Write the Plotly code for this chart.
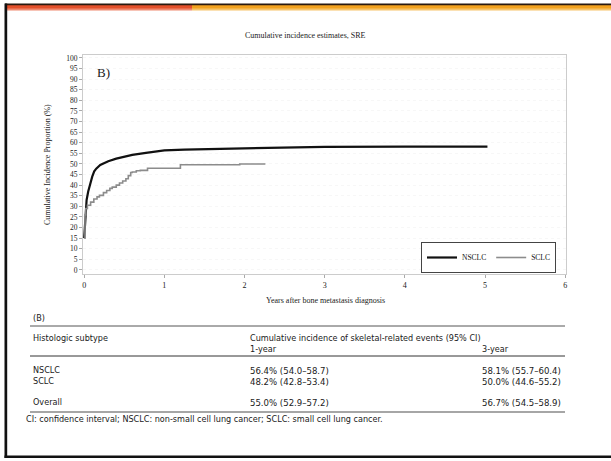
import plotly.graph_objects as go

# ---------------- data ----------------
chart_title = "Cumulative incidence estimates, SRE"
x_title = "Years after bone metastasis diagnosis"
y_title = "Cumulative Incidence Proportion (%)"
panel_label = "B)"

nsclc_t = [0, 0.005, 0.01, 0.02, 0.03, 0.05, 0.07, 0.1, 0.125, 0.15, 0.2, 0.3,
           0.4, 0.5, 0.6, 0.77, 1.0, 1.25, 1.5, 2.0, 2.5, 3.0, 4.0, 5.03]
nsclc_v = [15, 18, 22, 28, 33, 37, 40, 44, 46.5, 47.8, 49.5, 51.3,
           52.5, 53.5, 54.3, 55.2, 56.4, 56.8, 57.0, 57.4, 57.8, 58.1, 58.2, 58.2]

sclc_t = [0, 0.01, 0.02, 0.04, 0.08, 0.12, 0.16, 0.19, 0.24, 0.28, 0.32, 0.35,
          0.4, 0.44, 0.48, 0.52, 0.55, 0.58, 0.6, 0.65, 0.7, 0.79, 1.2, 1.94, 2.26]
sclc_v = [15, 26, 29, 30.5, 32, 33.5, 34.5, 35.2, 36.5, 37.5, 38.5, 39.1,
          40, 41, 42, 43, 44.5, 46, 46.2, 46.8, 47, 48, 49.6, 50.0, 50.0]

x_ticks = [0, 1, 2, 3, 4, 5, 6]
y_ticks = list(range(0, 101, 5))

table_label = "(B)"
table_col0 = "Histologic subtype"
table_group = "Cumulative incidence of skeletal-related events (95% CI)"
table_subcols = ["1-year", "3-year"]
row_names = ["NSCLC", "SCLC", "Overall"]
row_1yr = ["56.4% (54.0–58.7)", "48.2% (42.8–53.4)", "55.0% (52.9–57.2)"]
row_3yr = ["58.1% (55.7–60.4)", "50.0% (44.6–55.2)", "56.7% (54.5–58.9)"]
footnote = "CI: confidence interval; NSCLC: non-small cell lung cancer; SCLC: small cell lung cancer."

# ---------------- layout helpers (pixel -> paper) ----------------
W, H = 611, 461
L, R, T, B = 83, 566, 55, 274
PW, PH = R - L, B - T


def px(x):
    return (x - L) / PW


def py(y):
    return (B - y) / PH


serif = "Liberation Serif, Times New Roman, serif"
sans = "Liberation Sans Narrow, DejaVu Sans Condensed, Arial Narrow, sans-serif"

fig = go.Figure()
fig.add_trace(go.Scatter(x=nsclc_t, y=nsclc_v, mode="lines", name="NSCLC",
                         line=dict(color="#111111", width=2.2)))
fig.add_trace(go.Scatter(x=sclc_t, y=sclc_v, mode="lines", name="SCLC",
                         line=dict(color="#8c8c8c", width=1.6, shape="hv")))

fig.update_layout(
    width=W, height=H,
    margin=dict(l=L, r=W - R, t=T, b=H - B),
    paper_bgcolor="white", plot_bgcolor="white",
    showlegend=True,
    legend=dict(orientation="h", x=px(556), y=py(273), xanchor="right", yanchor="bottom",
                bordercolor="#444444", borderwidth=1, bgcolor="white",
                font=dict(family=serif, size=7.5, color="#111"),
                itemwidth=30, tracegroupgap=0),
)
fig.update_xaxes(range=[-0.015, 6.01], tickvals=x_ticks, ticks="outside", ticklen=3,
                 tickcolor="#aaaaaa", showline=True, linecolor="#cccccc", mirror=True,
                 showgrid=False, zeroline=False,
                 tickfont=dict(family=serif, size=8, color="#222"))
fig.update_yaxes(range=[-1.9, 101.4], tickvals=y_ticks, ticks="outside", ticklen=3,
                 tickcolor="#aaaaaa", showline=True, linecolor="#cccccc", mirror=True,
                 showgrid=True, gridcolor="#f7f7f7", griddash="dot", zeroline=False,
                 tickfont=dict(family=serif, size=7.5, color="#222"))

ann = []


def text(x, y, s, size, family, xanchor="left", color="#1a1a1a", angle=0):
    ann.append(dict(x=px(x), y=py(y), xref="paper", yref="paper", text=s, showarrow=False,
                    xanchor=xanchor, yanchor="middle", textangle=angle,
                    font=dict(family=family, size=size, color=color)))


text(305, 35, chart_title, 8, serif, xanchor="center")
text(325, 300, x_title, 8, serif, xanchor="center")
text(47, 165, y_title, 8, serif, xanchor="center", angle=-90)
text(95, 72, panel_label, 13, serif)

text(31, 318, table_label, 9, sans)
text(31, 338, table_col0, 9, sans)
text(248, 338, table_group, 9, sans)
text(248, 349, table_subcols[0], 9, sans)
text(480, 349, table_subcols[1], 9, sans)
row_y = [370, 381, 402]
for name, a, b, yy in zip(row_names, row_1yr, row_3yr, row_y):
    text(31, yy, name, 9, sans)
    text(248, yy, a, 9.5, sans)
    text(480, yy, b, 9.5, sans)
text(24, 419, footnote, 9, sans)

fig.update_layout(annotations=ann)

shapes = []


def hline(x0, x1, y, color, width):
    shapes.append(dict(type="line", xref="paper", yref="paper", x0=px(x0), x1=px(x1),
                       y0=py(y), y1=py(y), line=dict(color=color, width=width)))


def rect(x0, x1, y0, y1, color):
    shapes.append(dict(type="rect", xref="paper", yref="paper", x0=px(x0), x1=px(x1),
                       y0=py(y1), y1=py(y0), fillcolor=color, line=dict(width=0)))


# table rules
hline(30, 565, 326, "#555555", 1)
hline(30, 565, 356, "#333333", 1)
hline(30, 565, 412, "#888888", 1.5)

# page frame
rect(5, 192, 5, 10, "#e4512b")
rect(5, 192, 8.5, 10.5, "#f08a70")
rect(192, 611, 5, 10, "#f3a21f")
rect(192, 611, 8.5, 10.5, "#f7c46a")
rect(5, 611, 3.5, 5.2, "#2a1a10")
rect(4.5, 7.2, 3.5, 458, "#111111")
rect(4.5, 611, 455.5, 458, "#111111")

fig.update_layout(shapes=shapes)

fig.write_html("out.html")
